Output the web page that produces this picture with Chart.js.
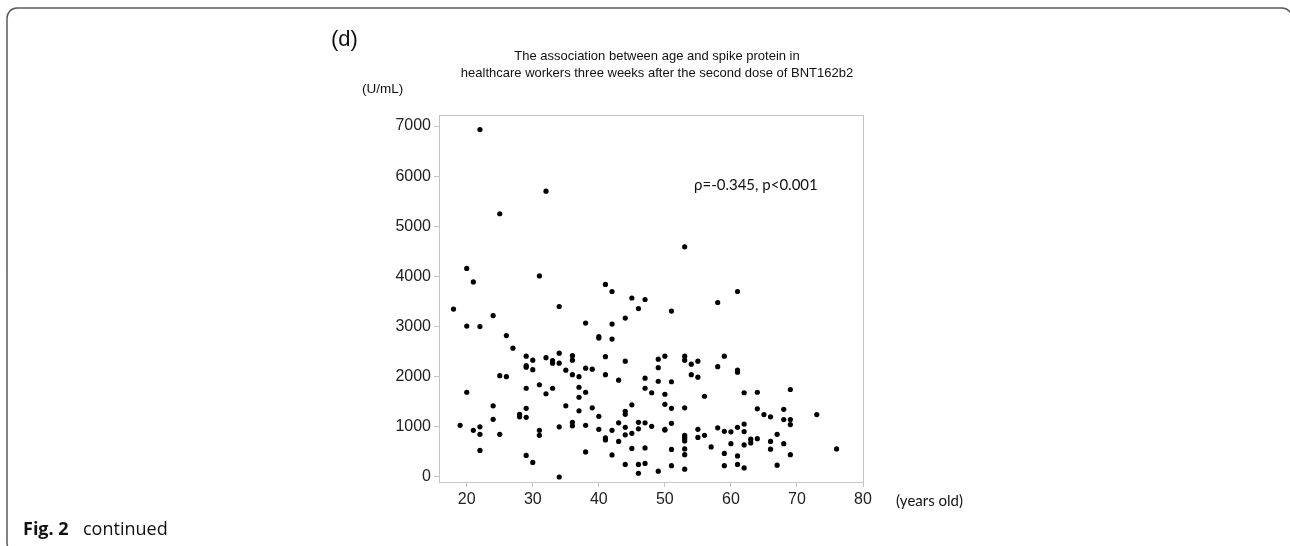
<!DOCTYPE html>
<html lang="en">
<head>
<meta charset="UTF-8">
<title>Age vs spike protein</title>
<style>
  body { margin: 0; background: #fff; }
</style>
</head>
<body>
<canvas id="chartJSContainer" width="1290" height="546"></canvas>
<script src="https://cdn.jsdelivr.net/npm/chart.js@4.4.0/dist/chart.umd.min.js"></script>
<script>
// age (years) of each worker, one line per age group
const ages = [
  18, 19, 20, 20, 20, 21, 21,
  22, 22, 22, 22, 22, 24, 24, 24,
  25, 25, 25, 26, 26, 27, 28, 28,
  29, 29, 29, 29, 29, 29, 29,
  30, 30, 30, 31, 31, 31, 31,
  32, 32, 32, 33, 33, 33,
  34, 34, 34, 34, 34, 35, 35,
  36, 36, 36, 36, 36, 37, 37, 37, 37,
  38, 38, 38, 38, 38, 39, 39,
  40, 40, 40, 40, 41, 41, 41, 41, 41,
  42, 42, 42, 42, 42, 43, 43, 43,
  44, 44, 44, 44, 44, 44, 44,
  45, 45, 45, 45, 46, 46, 46, 46, 46,
  47, 47, 47, 47, 47, 47, 48, 48,
  49, 49, 49, 49, 50, 50, 50, 50, 50,
  51, 51, 51, 51, 51, 51,
  53, 53, 53, 53, 53, 53, 53, 53, 53, 53, 53,
  54, 54, 55, 55, 55, 55, 56, 56, 57,
  58, 58, 58, 59, 59, 59, 59, 60, 60,
  61, 61, 61, 61, 61, 61,
  62, 62, 62, 62, 62, 63, 63,
  64, 64, 64, 65, 66, 66, 66, 67, 67,
  68, 68, 68, 69, 69, 69, 69, 73, 76
];

// anti-spike protein (U/mL), same order as ages
const spike = [
  3350, 1030, 4160, 3010, 1690, 3890, 930,
  6930, 3000, 1000, 850, 530, 3220, 1420, 1150,
  5250, 2020, 850, 2820, 2000, 2570, 1250, 1200,
  2410, 2220, 2190, 1770, 1370, 1190, 430,
  2330, 2140, 290, 4010, 1840, 930, 830,
  5700, 2380, 1660, 2320, 2270, 1770,
  3400, 2470, 2270, 1000, 0, 2130, 1420,
  2420, 2330, 2040, 1090, 1020, 2000, 1790, 1590, 1320,
  3070, 2170, 1690, 1030, 500, 2150, 1380,
  2800, 2770, 1210, 950, 3840, 2400, 2040, 780, 740,
  3700, 3050, 2750, 930, 440, 1930, 1080, 710,
  3170, 2310, 1310, 1250, 990, 840, 250,
  3570, 1440, 870, 570, 3360, 1090, 960, 250, 75,
  3540, 1970, 1770, 1080, 580, 270, 1680, 1010,
  2350, 2180, 1910, 115, 2410, 1650, 1450, 950, 935,
  3310, 1900, 1370, 1070, 550, 225,
  4590, 2410, 2330, 1380, 830, 800, 765, 720, 560, 445, 155,
  2250, 2040, 2310, 1990, 950, 790, 1610, 830, 600,
  3480, 2200, 980, 2410, 910, 470, 225, 900, 665,
  3700, 2130, 2090, 990, 420, 250,
  1680, 1055, 905, 640, 180, 755, 680,
  1690, 1360, 765, 1245, 1200, 710, 555, 850, 235,
  1350, 1145, 665, 1745, 1145, 1045, 445, 1245, 560
];

const xTicks = [20, 30, 40, 50, 60, 70, 80];
const yTicks = [0, 1000, 2000, 3000, 4000, 5000, 6000, 7000];

const titleLines = [
  'The association between age and spike protein in',
  'healthcare workers three weeks after the second dose of BNT162b2'
];

const points = ages.map((a, i) => ({ x: a, y: spike[i] }));

const decorations = {
  id: 'decorations',
  afterDraw(chart) {
    const { ctx, chartArea: a } = chart;
    ctx.save();
    // plot frame
    ctx.strokeStyle = '#c4c4c4';
    ctx.lineWidth = 1;
    ctx.strokeRect(Math.round(a.left) + 0.5, Math.round(a.top) + 0.5,
      Math.round(a.right - a.left), Math.round(a.bottom - a.top));

    // outer panel border
    ctx.strokeStyle = '#5a5a5a';
    ctx.lineWidth = 1.5;
    ctx.beginPath();
    ctx.roundRect(7, 8, 1285, 545, 10);
    ctx.stroke();

    ctx.fillStyle = '#111';
    ctx.textBaseline = 'middle';
    ctx.textAlign = 'left';
    ctx.font = '22px "Liberation Sans", Arial, sans-serif';
    ctx.fillText('(d)', 331, 40);

    ctx.textAlign = 'center';
    ctx.font = '13px "Liberation Sans", Arial, sans-serif';
    ctx.fillText(titleLines[0], 657, 56);
    ctx.fillText(titleLines[1], 657, 73);

    ctx.textAlign = 'left';
    ctx.font = '13.5px "Liberation Sans", Arial, sans-serif';
    ctx.fillText('(U/mL)', 362, 89);

    ctx.font = '15px Lato, "Liberation Sans", sans-serif';
    ctx.fillText('\u03c1=-0.345, p<0.001', 694, 185);
    ctx.fillText('(years old)', 896, 501);

    ctx.font = 'bold 18px "Open Sans", sans-serif';
    ctx.fillText('Fig. 2', 23, 530);
    ctx.font = '18px "Open Sans", sans-serif';
    ctx.fillText('continued', 83, 530);
    ctx.restore();
  }
};

const options = {
  type: 'scatter',
  data: {
    datasets: [{
      data: points,
      backgroundColor: '#000',
      borderWidth: 0,
      pointRadius: 2.6,
      pointHoverRadius: 2.6
    }]
  },
  options: {
    responsive: false,
    animation: false,
    events: [],
    layout: { padding: { left: 379, top: 115, right: 427, bottom: 24 } },
    plugins: {
      legend: { display: false },
      tooltip: { enabled: false }
    },
    scales: {
      x: {
        type: 'linear',
        min: 15.8,
        max: 80,
        afterBuildTicks: s => { s.ticks = xTicks.map(v => ({ value: v })); },
        afterFit: s => { s.height = 40; },
        grid: { drawOnChartArea: false, tickLength: 5, color: '#c4c4c4' },
        border: { display: true, color: '#c4c4c4' },
        ticks: {
          color: '#222',
          padding: 3,
          maxRotation: 0,
          callback: v => String(v),
          font: { family: '"Liberation Sans", Arial, sans-serif', size: 16 }
        }
      },
      y: {
        type: 'linear',
        min: -100,
        max: 7220,
        afterBuildTicks: s => { s.ticks = yTicks.map(v => ({ value: v })); },
        afterFit: s => { s.width = 60; },
        grid: { drawOnChartArea: false, tickLength: 5, color: '#c4c4c4' },
        border: { display: true, color: '#c4c4c4' },
        ticks: {
          color: '#222',
          padding: 3,
          callback: v => String(v),
          font: { family: '"Liberation Sans", Arial, sans-serif', size: 16 }
        }
      }
    }
  },
  plugins: [decorations]
};

const ctx = document.getElementById('chartJSContainer').getContext('2d');
new Chart(ctx, options);
</script>
</body>
</html>
